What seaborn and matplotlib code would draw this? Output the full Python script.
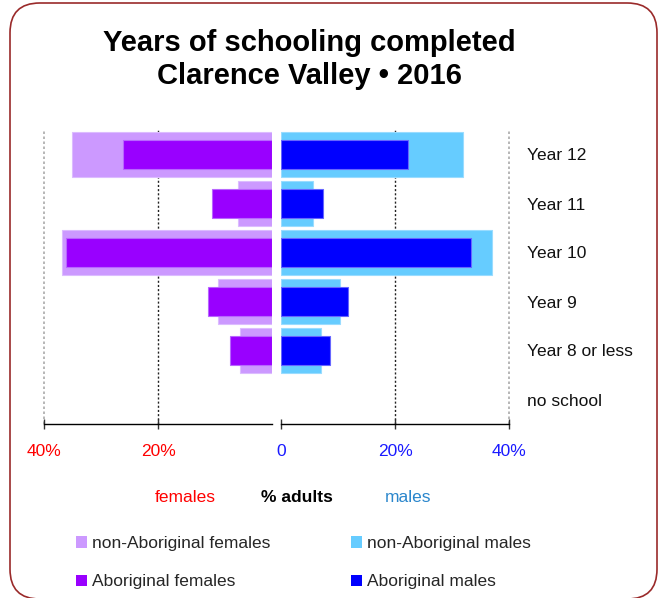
import matplotlib
matplotlib.use("Agg")
import matplotlib.pyplot as plt
import seaborn as sns
import pandas as pd
from matplotlib.patches import FancyBboxPatch, Patch

# Highest year of schooling completed, % of adults
levels = ["Year 12", "Year 11", "Year 10", "Year 9", "Year 8 or less", "no school"]
non_aboriginal_females = [35.1, 5.9, 36.9, 9.5, 5.7, 0.0]
aboriginal_females = [26.1, 10.6, 36.1, 11.3, 7.4, 0.0]
non_aboriginal_males = [32.0, 5.7, 37.1, 10.4, 7.1, 0.0]
aboriginal_males = [22.2, 7.4, 33.3, 11.7, 8.6, 0.0]

female_ticks = [40, 20]
female_tick_labels = ["40%", "20%"]
male_ticks = [0, 20, 40]
male_tick_labels = ["0", "20%", "40%"]

C_NA_F = "#CC99FF"
C_A_F = "#9900FF"
C_NA_M = "#66CCFF"
C_A_M = "#0000FF"

sns.set_theme(style="white")
plt.rcParams["font.family"] = ["Liberation Sans", "DejaVu Sans"]

W, H = 663, 598
fig = plt.figure(figsize=(W / 100, H / 100), dpi=100)
fig.patch.set_facecolor("white")


def fx(px):
    return px / W


def fy(py):
    return 1 - py / H


# rounded frame
frame = FancyBboxPatch((fx(10), fy(599)), fx(657) - fx(10), fy(3) - fy(599),
                       boxstyle="round,pad=0,rounding_size=0.045",
                       transform=fig.transFigure, facecolor="none",
                       edgecolor="#9a2a2a", linewidth=1.2,
                       mutation_aspect=W / H)
fig.patches.append(frame)

ax_top, ax_bot = 130, 424
axf = fig.add_axes([fx(44), fy(ax_bot), fx(272) - fx(44), (ax_bot - ax_top) / H])
axm = fig.add_axes([fx(281), fy(ax_bot), fx(509) - fx(281), (ax_bot - ax_top) / H])

df = pd.DataFrame({
    "level": levels,
    "naf": non_aboriginal_females,
    "af": aboriginal_females,
    "nam": non_aboriginal_males,
    "am": aboriginal_males,
})

for ax in (axf, axm):
    ax.axvline(20, color="#222222", linestyle=(0, (1.5, 1.5)), linewidth=1.0, zorder=0)
    ax.axvline(40, color="#aaaaaa", linestyle=(0, (1.5, 1.5)), linewidth=1.2, zorder=0, clip_on=False)

sns.barplot(data=df, x="naf", y="level", orient="h", ax=axf, color=C_NA_F,
            saturation=1, width=0.92, edgecolor="#dcbcff", linewidth=0.8, zorder=2)
sns.barplot(data=df, x="af", y="level", orient="h", ax=axf, color=C_A_F,
            saturation=1, width=0.6, edgecolor="#b866ff", linewidth=0.8, zorder=3)
sns.barplot(data=df, x="nam", y="level", orient="h", ax=axm, color=C_NA_M,
            saturation=1, width=0.92, edgecolor="#99dcff", linewidth=0.8, zorder=2)
sns.barplot(data=df, x="am", y="level", orient="h", ax=axm, color=C_A_M,
            saturation=1, width=0.6, edgecolor="#6666ff", linewidth=0.8, zorder=3)

# empty categories should leave no outline behind
for ax in (axf, axm):
    for p in ax.patches:
        if p.get_width() == 0:
            p.set_visible(False)

axf.set_xlim(40, 0)
axm.set_xlim(0, 40)
for ax in (axf, axm):
    ax.set_ylim(len(levels) - 0.5, -0.5)
    ax.set_xlabel("")
    ax.set_ylabel("")
    for s in ("top", "left", "right"):
        ax.spines[s].set_visible(False)
    ax.spines["bottom"].set_color("black")
    ax.spines["bottom"].set_linewidth(1.0)
    ax.set_facecolor("none")
    ax.tick_params(axis="x", direction="inout", length=7, width=1, color="#333333",
                   pad=11, labelsize=12.5, bottom=True)

axf.set_xticks(female_ticks)
axf.set_xticklabels(female_tick_labels, color="#ff0000")
axf.set_yticks([])

axm.set_xticks(male_ticks)
axm.set_xticklabels(male_tick_labels, color="#1a1aff")
axm.yaxis.tick_right()
axm.set_yticks(range(len(levels)))
axm.set_yticklabels(levels, fontsize=12.5, color="#111111")
axm.tick_params(axis="y", length=0, pad=13)

# title
fig.text(fx(309), fy(43), "Years of schooling completed", ha="center", va="center",
         fontsize=21, fontweight="bold", color="black")
fig.text(fx(309), fy(76), "Clarence Valley \u2022 2016", ha="center", va="center",
         fontsize=21, fontweight="bold", color="black")

# axis captions
fig.text(fx(185), fy(497), "females", ha="center", va="center", fontsize=12.5, color="#ff0000")
fig.text(fx(297), fy(497), "% adults", ha="center", va="center", fontsize=12.5,
         fontweight="bold", color="black")
fig.text(fx(408), fy(497), "males", ha="center", va="center", fontsize=12.5, color="#2a86cc")

handles = [Patch(facecolor=C_NA_F, edgecolor="none"), Patch(facecolor=C_A_F, edgecolor="none"),
           Patch(facecolor=C_NA_M, edgecolor="none"), Patch(facecolor=C_A_M, edgecolor="none")]
labels = ["non-Aboriginal females", "Aboriginal females", "non-Aboriginal males", "Aboriginal males"]
fig.legend(handles, labels, loc="upper left", bbox_to_anchor=(fx(76), fy(536)), ncol=2,
           frameon=False, fontsize=12.5, handlelength=0.65, handleheight=0.65,
           handletextpad=0.3, columnspacing=4.6, labelspacing=1.35, borderpad=0,
           borderaxespad=0)

fig.savefig("out.png", dpi=100, facecolor="white")
